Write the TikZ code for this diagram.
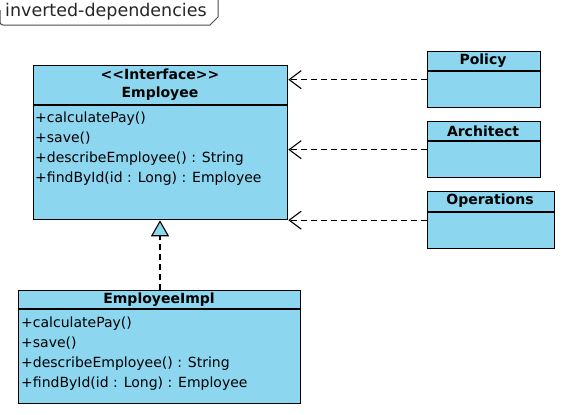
\documentclass[tikz,border=0pt]{standalone}
\usepackage{fontspec}
\setmainfont{DejaVu Sans}
\usepackage{tikz}
\usetikzlibrary{arrows.meta}

\definecolor{classblue}{RGB}{140,214,240}

\begin{document}
\begin{tikzpicture}[x=1pt,y=-1pt,
    classbox/.style={draw, line width=1.3pt, fill=classblue, anchor=north west, inner sep=0pt},
    member/.style={anchor=north west, align=left, inner sep=0pt, font=\fontsize{14}{20}\selectfont},
    classname/.style={inner sep=0pt, font=\fontsize{14}{16}\selectfont\bfseries},
    uses/.style={draw, line width=1.2pt, dash pattern=on 6pt off 4pt, -{Straight Barb[length=12pt,width=18pt,line width=1.1pt]}},
    realizes/.style={draw, line width=1.2pt, dash pattern=on 6pt off 4pt, -{Triangle[open,fill=classblue,length=16pt,width=18pt,line width=1.1pt]}}]
    \useasboundingbox (0,0) rectangle (566,415);
    % frame tab
    \draw[line width=1pt, gray!60!black, rounded corners=3pt] (0,10) -- (0,25) [sharp corners] -- (210,25) -- (218,17) -- (218,0);
    \node[anchor=west, inner sep=0pt, text=gray!30!black, font=\fontsize{17.5}{18}\selectfont] (frame) at (5,12) {inverted-dependencies};
    % interface
    \node[classbox, minimum width=254pt, minimum height=154pt] (employee) at (33,65) {};
    \draw[line width=1.3pt] (33,105) -- (287,105);
    \node[classname] (stereo) at (160,74) {{<}{<}Interface{>}{>}};
    \node[classname] (empname) at (160,94) {Employee};
    \node[member] (empops) at (35,112) {+calculatePay()\\+save()\\+describeEmployee() : String\\+findById(id : Long) : Employee};
    % implementation
    \node[classbox, minimum width=282pt, minimum height=113pt] (impl) at (18,290) {};
    \draw[line width=1.3pt] (18,309) -- (300,309);
    \node[classname] (implname) at (159,300) {EmployeeImpl};
    \node[member] (implops) at (21,317) {+calculatePay()\\+save()\\+describeEmployee() : String\\+findById(id : Long) : Employee};
    % clients
    \node[classbox, minimum width=113pt, minimum height=56pt] (policy) at (427,51) {};
    \draw[line width=1.3pt] (427,71) -- (540,71);
    \node[classname] (policyname) at (483,61) {Policy};
    \node[classbox, minimum width=113pt, minimum height=56pt] (architect) at (427,121) {};
    \draw[line width=1.3pt] (427,141) -- (540,141);
    \node[classname] (architectname) at (483,131) {Architect};
    \node[classbox, minimum width=127pt, minimum height=57pt] (operations) at (427,191) {};
    \draw[line width=1.3pt] (427,212) -- (554,212);
    \node[classname] (operationsname) at (490,201) {Operations};
    % dependencies
    \draw[uses] (policy.west) -- (policy.west -| employee.east);
    \draw[uses] (architect.west) -- (architect.west -| employee.east);
    \draw[uses] (operations.west) -- (operations.west -| employee.east);
    \draw[realizes] (impl.north -| stereo) -- (employee.south -| stereo);
\end{tikzpicture}
\end{document}
